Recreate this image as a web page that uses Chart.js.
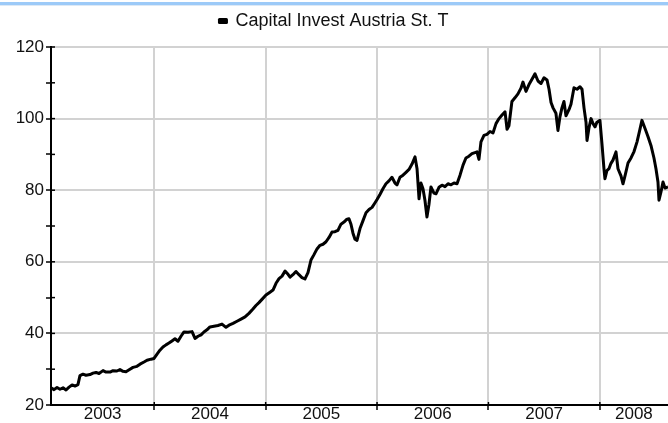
<!DOCTYPE html>
<html><head><meta charset="utf-8">
<script src="https://cdn.jsdelivr.net/npm/chart.js@4/dist/chart.umd.min.js"></script>
<style>
html,body{margin:0;padding:0;background:#fff;}
#wrap{position:relative;width:668px;height:423px;overflow:hidden;background:#fff;}
#bar{position:absolute;left:0;top:2px;width:668px;height:3px;background:#9ccaf8;border-bottom:1px solid #dce9f6;}
canvas{position:absolute;left:0;top:0;}
</style></head>
<body><div id="wrap"><canvas id="c" width="668" height="423"></canvas><div id="bar"></div></div>
<script>
const seriesName = 'Capital Invest Austria St. T';
const yearLabels = ['2003','2004','2005','2006','2007','2008'];
const yearStarts = [2004, 2005, 2006, 2007, 2008];
const yTickLabels = [20, 40, 60, 80, 100, 120];

// dates as decimal years
const dates = [
2003.073,2003.100,2003.127,2003.154,2003.181,2003.208,2003.235,2003.262,2003.288,2003.315,
2003.333,2003.360,2003.387,2003.423,2003.450,2003.477,2003.504,2003.540,2003.567,2003.603,
2003.630,2003.665,2003.692,2003.719,2003.746,2003.782,2003.809,2003.845,2003.872,2003.908,
2003.935,2003.971,2003.998,2004.025,2004.051,2004.078,2004.105,2004.132,2004.159,2004.186,
2004.213,2004.240,2004.267,2004.303,2004.339,2004.366,2004.393,2004.420,2004.446,2004.473,
2004.500,2004.536,2004.572,2004.608,2004.644,2004.671,2004.707,2004.743,2004.779,2004.815,
2004.850,2004.886,2004.913,2004.940,2004.967,2005.003,2005.039,2005.066,2005.093,2005.120,
2005.147,2005.174,2005.201,2005.219,2005.245,2005.272,2005.299,2005.326,2005.353,2005.380,
2005.407,2005.434,2005.461,2005.488,2005.515,2005.542,2005.569,2005.596,2005.622,2005.649,
2005.676,2005.703,2005.730,2005.748,2005.766,2005.784,2005.802,2005.820,2005.847,2005.874,
2005.901,2005.928,2005.955,2005.982,2006.000,2006.026,2006.053,2006.080,2006.107,2006.134,
2006.161,2006.179,2006.206,2006.233,2006.260,2006.287,2006.314,2006.341,2006.359,2006.377,
2006.394,2006.412,2006.430,2006.448,2006.466,2006.484,2006.511,2006.529,2006.556,2006.583,
2006.610,2006.637,2006.664,2006.691,2006.718,2006.745,2006.772,2006.798,2006.825,2006.852,
2006.879,2006.897,2006.915,2006.933,2006.960,2006.987,2007.014,2007.041,2007.068,2007.095,
2007.122,2007.149,2007.167,2007.184,2007.211,2007.238,2007.265,2007.292,2007.310,2007.337,
2007.364,2007.391,2007.418,2007.445,2007.472,2007.499,2007.526,2007.544,2007.562,2007.580,
2007.606,2007.624,2007.642,2007.660,2007.678,2007.696,2007.723,2007.741,2007.768,2007.795,
2007.822,2007.840,2007.858,2007.876,2007.885,2007.903,2007.921,2007.939,2007.957,2007.974,
2008.001,2008.019,2008.037,2008.046,2008.064,2008.082,2008.100,2008.118,2008.145,2008.163,
2008.190,2008.208,2008.226,2008.253,2008.280,2008.307,2008.334,2008.360,2008.378,2008.405,
2008.432,2008.459,2008.486,2008.504,2008.522,2008.531,2008.549,2008.567,2008.585,2008.612
];

const values = [
24.8,24.3,24.9,24.4,24.8,24.2,25.0,25.6,25.3,25.7,
28.2,28.6,28.3,28.5,28.9,29.1,28.8,29.6,29.2,29.2,
29.6,29.5,29.9,29.4,29.3,30.0,30.5,30.8,31.4,32.0,
32.5,32.8,33.0,34.2,35.3,36.2,36.8,37.3,37.9,38.5,
37.8,39.2,40.4,40.3,40.5,38.6,39.2,39.6,40.4,41.0,
41.8,42.0,42.2,42.6,41.7,42.3,42.8,43.4,44.0,44.6,
45.6,46.8,47.8,48.6,49.5,50.7,51.5,52.1,54.0,55.3,
56.0,57.4,56.5,55.7,56.4,57.3,56.4,55.6,55.2,57.0,
60.5,62.0,63.6,64.6,64.9,65.6,66.8,68.3,68.4,68.8,
70.5,71.1,71.9,72.0,70.5,68.0,66.3,66.0,69.3,71.5,
73.7,74.6,75.2,76.5,77.4,78.8,80.4,81.8,82.6,83.6,
82.0,81.5,83.6,84.2,85.0,85.8,87.3,89.3,86.0,77.6,
82.0,80.5,77.2,72.5,76.0,80.9,79.2,79.0,80.8,81.4,
81.0,81.8,81.5,82.0,81.8,84.2,87.0,89.0,89.5,90.2,
90.5,90.7,88.6,93.5,95.3,95.6,96.4,96.0,98.6,100.0,
101.0,101.9,97.0,98.0,104.8,105.8,106.9,108.5,110.2,107.6,
109.5,111.0,112.5,110.5,109.8,111.4,110.8,108.2,104.5,103.0,
101.5,96.7,100.5,103.0,104.8,100.8,102.5,104.0,108.6,108.2,
108.9,108.2,103.0,99.0,93.9,97.5,100.0,98.6,97.7,99.0,
99.5,93.0,86.0,83.2,85.5,86.0,87.5,88.4,90.7,86.0,
84.0,81.8,84.0,87.6,89.0,90.8,93.5,97.0,99.5,97.3,
95.0,92.5,89.0,86.0,82.3,77.2,79.5,82.3,80.6,80.9
];

const xMin = dates[0];
const xMax = dates[dates.length - 1];
const bounds = [xMin].concat(yearStarts, [xMax]);
const labelTicks = yearLabels.map((t, i) => ({ value: (bounds[i] + bounds[i + 1]) / 2, label: t }));
const isBoundary = v => yearStarts.some(b => Math.abs(b - v) < 1e-6);
const FAMILY = "'Liberation Sans', Arial, sans-serif";
const FONT = { family: FAMILY, size: 17 };

// draws the inner half of the axis tick marks (they cross the axis line in the original)
const innerTicks = {
  id: 'innerTicks',
  afterDatasetsDraw(chart) {
    const { ctx, scales: { x, y } } = chart;
    ctx.save();
    ctx.strokeStyle = '#000';
    ctx.lineWidth = 1.5;
    y.ticks.forEach(t => {
      const py = y.getPixelForValue(t.value);
      ctx.beginPath(); ctx.moveTo(y.right, py); ctx.lineTo(y.right + 4, py); ctx.stroke();
    });
    x.ticks.filter(t => isBoundary(t.value)).forEach(t => {
      const px = x.getPixelForValue(t.value);
      ctx.beginPath(); ctx.moveTo(px, x.top); ctx.lineTo(px, x.top - 3); ctx.stroke();
    });
    ctx.restore();
  }
};

new Chart(document.getElementById('c'), {
  type: 'line',
  data: {
    datasets: [{
      label: seriesName,
      data: dates.map((d, i) => ({ x: d, y: values[i] })),
      borderColor: '#000',
      backgroundColor: '#000',
      borderWidth: 3,
      pointRadius: 0,
      tension: 0,
      borderJoinStyle: 'round'
    }]
  },
  plugins: [innerTicks],
  options: {
    responsive: false,
    animation: false,
    devicePixelRatio: 1,
    layout: { padding: { left: 0, right: 0, top: 0, bottom: 0 } },
    plugins: {
      legend: {
        display: true,
        position: 'top',
        labels: { boxWidth: 7, boxHeight: 3, padding: 12, color: '#111', font: { family: FAMILY, size: 18 } }
      },
      subtitle: { display: true, text: '', weight: 500, font: { size: 1, lineHeight: 1 }, padding: { top: 0, bottom: 6 } },
      tooltip: { enabled: false }
    },
    scales: {
      x: {
        type: 'linear',
        min: xMin,
        max: xMax,
        afterBuildTicks: scale => {
          scale.ticks = yearStarts.map(v => ({ value: v }))
            .concat(labelTicks.map(t => ({ value: t.value })))
            .sort((a, b) => a.value - b.value);
        },
        afterFit: scale => { scale.height = 18; },
        ticks: {
          autoSkip: false, maxRotation: 0, minRotation: 0, padding: -2,
          color: '#111', font: { family: FAMILY, size: 17, lineHeight: 0.8 },
          callback: v => { const t = labelTicks.find(o => Math.abs(o.value - v) < 1e-6); return t ? t.label : ''; }
        },
        grid: {
          color: c => (c.tick && isBoundary(c.tick.value)) ? '#d2d2d2' : 'rgba(0,0,0,0)',
          tickColor: c => (c.tick && isBoundary(c.tick.value)) ? '#000' : 'rgba(0,0,0,0)',
          lineWidth: 2, tickLength: 5, drawTicks: true, tickWidth: 1.5
        },
        border: { display: true, color: '#000', width: 2 }
      },
      y: {
        min: 20,
        max: 120,
        afterFit: scale => { scale.width = 51; },
        ticks: {
          stepSize: 10, padding: 2, color: '#111', font: FONT,
          callback: v => yTickLabels.includes(v) ? String(v) : ''
        },
        grid: {
          color: c => (c.tick && c.tick.value > 20 && yTickLabels.includes(c.tick.value)) ? '#d2d2d2' : 'rgba(0,0,0,0)',
          tickColor: '#000', lineWidth: 2, tickLength: 5, tickWidth: 1.5
        },
        border: { display: true, color: '#000', width: 2 }
      }
    }
  }
});
</script>
</body></html>
